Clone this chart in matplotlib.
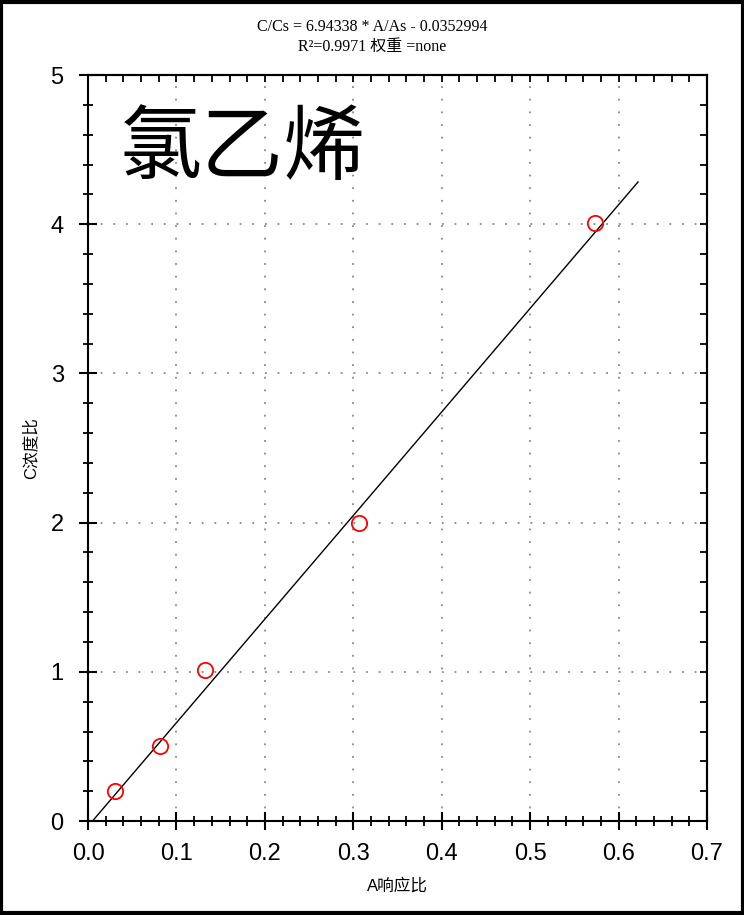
import numpy as np
import matplotlib
matplotlib.use("Agg")
from matplotlib import pyplot as plt
from matplotlib.patches import Rectangle
from matplotlib.ticker import MultipleLocator

# 数据
a_ratio = [0.0305, 0.0814, 0.1323, 0.3065, 0.5733]   # A响应比
c_ratio = [0.2, 0.5, 1.01, 2.0, 4.01]               # C浓度比
slope = 6.94338
intercept = -0.0352994
fit_x = [0.0, 0.622]
r2 = 0.9971
compound = "氯乙烯"

serif_cjk = ["Liberation Serif", "Noto Sans CJK SC"]
sans_cjk = ["Liberation Sans", "Noto Sans CJK SC"]

fig = plt.figure(figsize=(7.44, 9.15), dpi=100)
ax = fig.add_axes([0.1183, 0.1027, 0.8320, 0.8153])

fx = np.array(fit_x)
ax.plot(fx, slope * fx + intercept, color="black", lw=1.0, zorder=3)
ax.plot(a_ratio, c_ratio, "o", mfc="none", mec="red", ms=11, mew=1.3, zorder=4)

ax.set_xlim(0, 0.7)
ax.set_ylim(0, 5)
ax.xaxis.set_major_locator(MultipleLocator(0.1))
ax.xaxis.set_minor_locator(MultipleLocator(0.02))
ax.yaxis.set_major_locator(MultipleLocator(1))
ax.yaxis.set_minor_locator(MultipleLocator(0.2))
ax.xaxis.set_major_formatter(plt.FuncFormatter(lambda v, p: f"{v:.1f}"))
ax.yaxis.set_major_formatter(plt.FuncFormatter(lambda v, p: f"{v:.0f}"))

ax.grid(True, which="major", color="#888888", linestyle=(0, (1, 6)), lw=1.3)

for s in ax.spines.values():
    s.set_linewidth(1.5)

ax.tick_params(axis="both", which="major", direction="inout", length=13,
               width=1.5, labelsize=17, top=False, right=False)
ax.tick_params(axis="both", which="minor", direction="inout", length=7,
               width=1.3, top=False, right=False)
ax.tick_params(axis="x", which="major", pad=9)
ax.tick_params(axis="y", which="major", pad=11)
for lab in ax.get_xticklabels() + ax.get_yticklabels():
    lab.set_fontfamily("Liberation Sans")

# 上、右侧内刻度
top = ax.secondary_xaxis("top")
top.xaxis.set_major_locator(MultipleLocator(0.02))
top.tick_params(direction="in", length=5, width=1.3, labeltop=False)
right = ax.secondary_yaxis("right")
right.yaxis.set_major_locator(MultipleLocator(0.2))
right.tick_params(direction="in", length=5, width=1.3, labelright=False)
for s in list(top.spines.values()) + list(right.spines.values()):
    s.set_linewidth(1.5)

ax.set_xlabel("A响应比", fontsize=12, family=sans_cjk, labelpad=10)
ax.set_ylabel("C浓度比", fontsize=12, family=sans_cjk, labelpad=9)

ax.text(0.052, 0.90, compound, transform=ax.transAxes, fontsize=59,
        family="Noto Sans CJK SC", va="center", ha="left")

fig.text(0.5, 0.9705, f"C/Cs = {slope} * A/As - {abs(intercept)}",
         fontsize=11.5, family=serif_cjk, ha="center", va="center")
fig.text(0.5, 0.9487, f"R²={r2} 权重 =none",
         fontsize=11.5, family=serif_cjk, ha="center", va="center")

fig.patches.append(Rectangle((0.002, 0.002), 0.996, 0.996, transform=fig.transFigure,
                             fill=False, edgecolor="black", lw=3))

fig.savefig("out.png", dpi=100)
